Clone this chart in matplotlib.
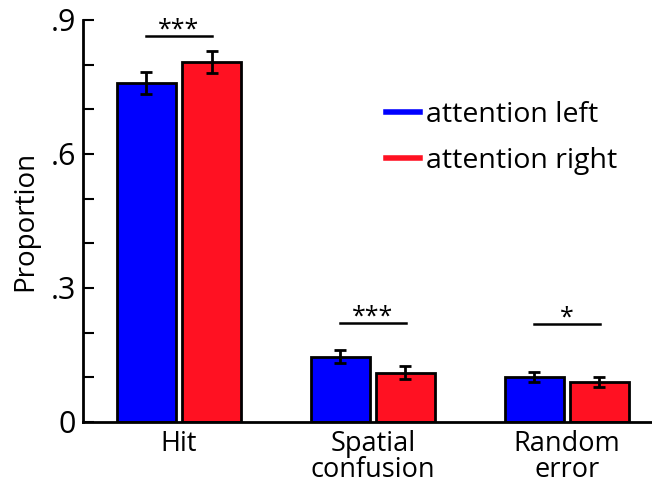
import matplotlib
matplotlib.use("Agg")
import matplotlib.pyplot as plt
import numpy as np
from matplotlib.lines import Line2D

plt.rcParams["font.family"] = ["Open Sans", "DejaVu Sans"]

categories = ["Hit", "Spatial\nconfusion", "Random\nerror"]
left_vals = [0.759, 0.146, 0.101]
left_err = [0.024, 0.014, 0.011]
right_vals = [0.806, 0.110, 0.090]
right_err = [0.025, 0.015, 0.011]
sig_labels = ["***", "***", "*"]
sig_heights = [0.864, 0.222, 0.220]
series_names = ["attention left", "attention right"]

blue = "#0000ff"
red = "#ff1122"

fig = plt.figure(figsize=(6.52, 4.86), dpi=100)
ax = fig.add_axes([0.127, 0.132, 0.873, 0.827])

x = np.arange(len(categories))
w = 0.305
off = 0.168
ax.bar(x - off, left_vals, w, color=blue, edgecolor="k", lw=2.0, zorder=2)
ax.bar(x + off, right_vals, w, color=red, edgecolor="k", lw=2.0, zorder=2)
ax.errorbar(x - off, left_vals, yerr=left_err, fmt="none", ecolor="k",
            elinewidth=2, capsize=4, capthick=2, zorder=3)
ax.errorbar(x + off, right_vals, yerr=right_err, fmt="none", ecolor="k",
            elinewidth=2, capsize=4, capthick=2, zorder=3)

# significance bars
for xi, h, s in zip(x, sig_heights, sig_labels):
    ax.plot([xi - 0.17, xi + 0.17], [h, h], color="k", lw=1.8)
    ax.text(xi, h + 0.013, s, ha="center", va="center", fontsize=18)

ax.set_xlim(-0.496, 2.44)
ax.set_ylim(0, 0.9)
ax.set_yticks(np.arange(0, 0.91, 0.1))
ax.set_yticklabels(["0", "", "", ".3", "", "", ".6", "", "", ".9"])
ax.tick_params(axis="y", direction="in", length=8, width=1.5,
               labelsize=22, pad=5)
ax.set_xticks(x)
ax.set_xticklabels(categories, fontsize=19.5, linespacing=0.9)
ax.tick_params(axis="x", length=0, pad=6)
ax.set_ylabel("Proportion", fontsize=20, labelpad=8)

for side in ["top", "right"]:
    ax.spines[side].set_visible(False)
for side in ["left", "bottom"]:
    ax.spines[side].set_linewidth(2)

handles = [Line2D([], [], color=blue, lw=4), Line2D([], [], color=red, lw=4)]
fig.legend(handles, series_names, loc="upper left",
           bbox_to_anchor=(0.553, 0.845), frameon=False, fontsize=20.5,
           handlelength=1.2, handletextpad=0.2, labelspacing=0.62)

fig.savefig("out.png", dpi=100)
